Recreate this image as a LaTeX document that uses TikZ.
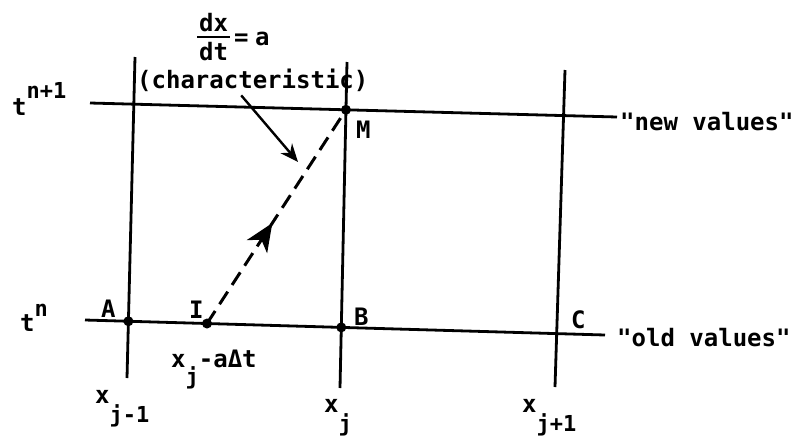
\documentclass[tikz,border=0pt]{standalone}
\usepackage{fontspec}
\setmainfont{DejaVu Sans Mono}[Ligatures=TeXOff,BoldFont={DejaVu Sans Mono Bold}]
\usetikzlibrary{arrows.meta,decorations.markings,calc}
\newcommand{\dq}{"}
\newcommand{\smallsz}{\fontsize{22}{24}\selectfont}
\begin{document}
\begin{tikzpicture}[x=1pt,y=-1pt,
  gridline/.style={line width=2.8pt},
  dotmark/.style={circle,fill,inner sep=0pt,minimum size=10pt},
  lbl/.style={inner sep=0pt,anchor=base west,font=\fontsize{24}{28}\selectfont\bfseries},
  charline/.style={line width=3pt,dash pattern=on 15pt off 8pt,
    postaction={decorate},
    decoration={markings,mark=at position 0.47 with {\arrow{Stealth[length=28pt,width=24pt,inset=8pt]}}}},
  pointer/.style={line width=2.4pt,-{Stealth[length=18pt,width=15pt]}}
]
\useasboundingbox (0,0) rectangle (803,440);
% grid
\coordinate (TL) at (90,103);
\coordinate (TR) at (617,117);
\coordinate (BL) at (85,320);
\coordinate (BR) at (605,335);
\coordinate (V1t) at (135,57);  \coordinate (V1b) at (127,378);
\coordinate (V2t) at (347,62);  \coordinate (V2b) at (340,388);
\coordinate (V3t) at (565,70);  \coordinate (V3b) at (555,387);
\draw[gridline] (TL) -- (TR);
\draw[gridline] (BL) -- (BR);
\draw[gridline] (V1t) -- (V1b);
\draw[gridline] (V2t) -- (V2b);
\draw[gridline] (V3t) -- (V3b);
% points
\node[dotmark] (A) at (intersection of BL--BR and V1t--V1b) {};
\node[dotmark] (B) at (intersection of BL--BR and V2t--V2b) {};
\node[dotmark] (M) at (intersection of TL--TR and V2t--V2b) {};
\node[dotmark] (I) at ($(BL)!0.2346!(BR)$) {};
% characteristic
\draw[charline] (I.center) -- (M.center);
% labels
\node[lbl] (tn1) at (12,115) {t\raisebox{17pt}{\smallsz\bfseries n+1}};
\node[lbl] (tn) at (20,331) {t\raisebox{15pt}{\smallsz\bfseries n}};
\node[lbl] (lA) at (101,317) {A};
\node[lbl] (lI) at (189,318) {I};
\node[lbl] (lB) at (354,325) {B};
\node[lbl] (lC) at (571,328) {C};
\node[lbl] (lM) at (356,138) {M};
\node[lbl] (newv) at (620,130) {\dq new values\dq};
\node[lbl] (oldv) at (617,346) {\dq old values\dq};
\node[lbl] (xja) at (171,367) {x\raisebox{-17pt}{\smallsz\bfseries j}-aΔt};
\node[lbl] (xjm) at (95,403) {x\raisebox{-19pt}{\smallsz\bfseries j-1}};
\node[lbl] (xj) at (324,412) {x\raisebox{-19pt}{\smallsz\bfseries j}};
\node[lbl] (xjp) at (522,412) {x\raisebox{-19pt}{\smallsz\bfseries j+1}};
\node[lbl] (char) at (137,88) {(characteristic)};
% dx/dt = a
\node[lbl] (dx) at (199,31) {dx};
\node[lbl] (dt) at (199,60) {dt};
\coordinate (barL) at ($(dx.south west)!0.5!(dt.north west)+(-2,0)$);
\coordinate (barR) at ($(dx.south east)!0.5!(dt.north east)+(2,0)$);
\draw[line width=2pt] (barL) -- (barR);
\node[lbl] (eqa) at (234,45) {=\hspace{-8pt} a};
\coordinate (ptip) at (298,162);
\draw[pointer] ($(char.south west)!0.45!(char.south east)+(0,4)$) -- (ptip);
\end{tikzpicture}
\end{document}
